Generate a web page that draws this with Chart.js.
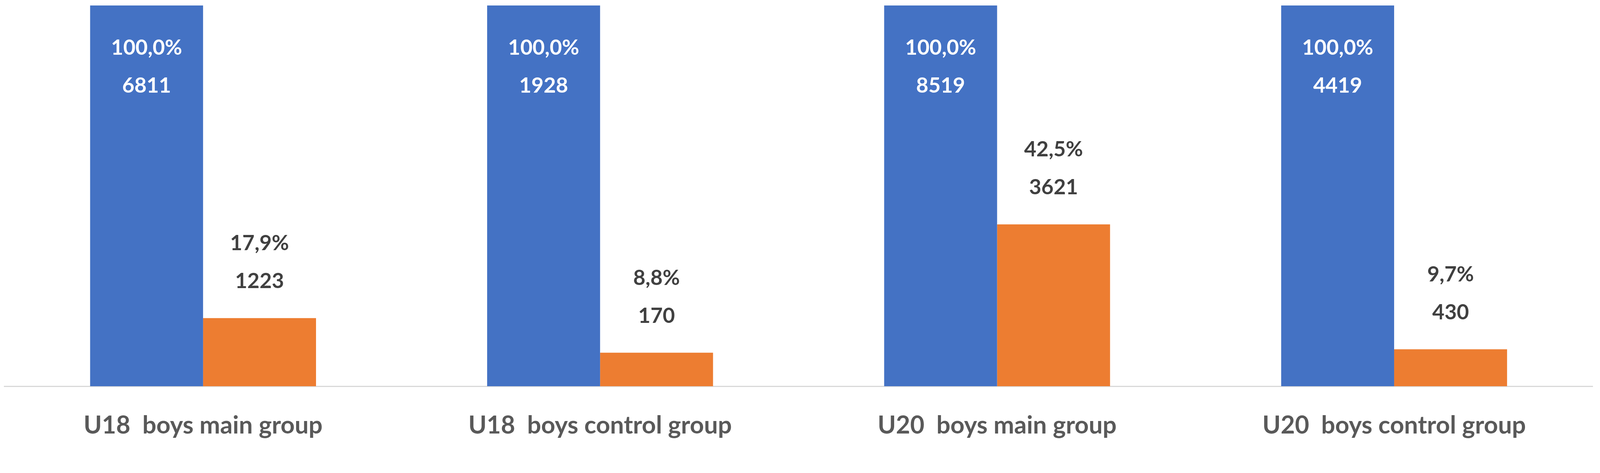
<!DOCTYPE html>
<html>
<head>
<meta charset="utf-8">
<script src="https://cdn.jsdelivr.net/npm/chart.js@4"></script>
<style>
  html, body { margin: 0; padding: 0; background: #fff; overflow: hidden; }
  #wrap { position: absolute; left: 0; top: 0; width: 100vw; height: 100vh; }
</style>
</head>
<body>
<div id="wrap"><canvas id="chart"></canvas></div>
<script>
  const categories = ["U18  boys main group", "U18  boys control group", "U20  boys main group", "U20  boys control group"];
  const totalPct = [100.0, 100.0, 100.0, 100.0];
  const totalCount = [6811, 1928, 8519, 4419];
  const subPct = [17.9, 8.8, 42.5, 9.7];
  const subCount = [1223, 170, 3621, 430];

  // offsets were measured on a 4562 x 1210 picture, scale them to the window
  const kx = window.innerWidth / 4562;
  const ky = window.innerHeight / 1210;
  const kf = Math.min(kx, ky);
  const fmtPct = v => v.toFixed(1).replace(".", ",") + "%";

  const labelPlugin = {
    id: "barLabels",
    afterDatasetsDraw(chart) {
      const ctx = chart.ctx;
      ctx.save();
      ctx.font = "bold " + Math.round(60 * kf) + "px Lato";
      ctx.textAlign = "center";
      ctx.textBaseline = "middle";
      chart.getDatasetMeta(0).data.forEach((bar, i) => {
        ctx.fillStyle = "#ffffff";
        ctx.fillText(fmtPct(totalPct[i]), bar.x, bar.y + 109 * ky);
        ctx.fillText(String(totalCount[i]), bar.x, bar.y + 206 * ky);
      });
      chart.getDatasetMeta(1).data.forEach((bar, i) => {
        ctx.fillStyle = "#404040";
        ctx.fillText(fmtPct(subPct[i]), bar.x, bar.y - 191 * ky);
        ctx.fillText(String(subCount[i]), bar.x, bar.y - 94 * ky);
      });
      ctx.restore();
    }
  };

  const tickSize = Math.round(70 * kf);

  new Chart(document.getElementById("chart"), {
    type: "bar",
    data: {
      labels: categories,
      datasets: [
        { data: totalPct, backgroundColor: "#4472C4", barPercentage: 1.0, categoryPercentage: 0.569 },
        { data: subPct, backgroundColor: "#ED7D31", barPercentage: 1.0, categoryPercentage: 0.569 }
      ]
    },
    options: {
      responsive: true,
      maintainAspectRatio: false,
      animation: false,
      // x axis height = padding + 1.2 * font size, chosen so the baseline lands at y = 1051
      layout: { padding: { left: 13 * kx, right: 21 * kx, top: 14 * ky, bottom: 159 * ky - 63 * ky - 1.2 * tickSize } },
      plugins: { legend: { display: false }, tooltip: { enabled: false } },
      scales: {
        x: {
          grid: { display: false, drawTicks: false },
          border: { display: true, color: "#D9D9D9", width: 3 * ky },
          ticks: { color: "#595959", font: { family: "Lato", size: tickSize, weight: "bold" }, padding: 63 * ky, maxRotation: 0 }
        },
        y: { display: false, min: 0, max: 100 }
      }
    },
    plugins: [labelPlugin]
  });
</script>
</body>
</html>
